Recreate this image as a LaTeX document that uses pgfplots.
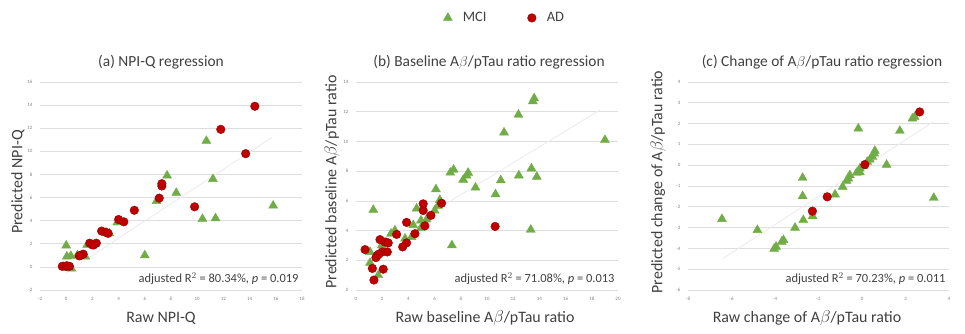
\documentclass[border=0pt]{standalone}
\usepackage{fontspec}
\setmainfont{Carlito}
\usepackage{pgfplots}
\pgfplotsset{compat=1.18}
\definecolor{mci}{RGB}{112,173,71}
\definecolor{ad}{RGB}{192,0,0}
\definecolor{txt}{RGB}{64,64,64}
\definecolor{gridc}{RGB}{222,222,222}
\definecolor{trendc}{RGB}{236,236,236}
\pgfplotsset{
 panel/.style={
  scale only axis, width=262bp, height=208bp, anchor=south west,
  axis line style={draw=none},
  ymajorgrids, grid style={gridc, line width=0.6bp},
  tick style={draw=none},
  tick label style={font=\fontsize{5}{6}\selectfont, text=gray},
  /pgf/number format/assume math mode=true,
  xticklabel style={yshift=-4bp},
  yticklabel style={xshift=-4bp},
  clip=false,
 },
 mcis/.style={only marks, mark=triangle*, mark size=5.2bp, mark options={fill=mci, draw=mci}},
 ads/.style={only marks, mark=*, mark size=4.3bp, mark options={fill=ad, draw=ad!75!black, line width=0.4bp}},
 trend/.style={trendc, line width=0.9bp, no marks},
}
\newcommand{\ttl}{\fontsize{15.5}{18}\selectfont\color{txt}}
\newcommand{\lbl}{\fontsize{16}{19}\selectfont\color{txt}}
\newcommand{\ann}{\fontsize{12.5}{15}\selectfont\color{txt}}
\begin{document}
\begin{tikzpicture}[x=1bp,y=1bp]
\path[use as bounding box] (0,0) rectangle (965,333);
% ---------- panel (a)
\begin{axis}[panel, at={(40bp,43bp)}, xmin=-2, xmax=18, ymin=-2, ymax=16,
  xtick={-2,0,...,18}, ytick={-2,0,...,16},
  legend columns=2,
  legend style={at={(axis description cs:1.53,1.308)}, anchor=west, draw=none, fill=none,
    inner sep=0pt, outer sep=0pt,
    font=\fontsize{14.5}{17}\selectfont\color{txt}},
  legend image code/.code={\draw[#1] plot coordinates {(0bp,0bp)};\path[draw=none,fill=none] (-7bp,-3bp) rectangle (13bp,3bp);},
]
\addplot[trend, forget plot] coordinates {(0,-0.5) (15.7,11.2)};
\addplot[mcis] coordinates {
(10.7,10.9) (11.2,7.6) (7.7,7.9) (8.4,6.4) (6.9,5.7) (10.4,4.15) (11.4,4.2)
(15.8,5.3) (6.0,1.0) (3.9,3.85) (3.3,2.9) (3.1,2.95) (1.6,1.9) (0.85,1.0)
(1.45,0.9) (0.0,1.85) (0.05,0.9) (0.35,0.95) (0.4,-0.15) (0.15,-0.1) (-0.2,0.0)
};
\addlegendentry{\makebox[60bp][l]{MCI}}
\addplot[ads] coordinates {
(14.4,13.9) (11.8,11.9) (13.7,9.8) (9.8,5.2) (7.3,7.0) (7.3,7.2) (7.1,5.95)
(5.2,4.9) (4.0,4.1) (4.4,3.9) (2.7,3.1) (3.0,3.0) (3.2,2.9) (1.8,2.05)
(2.1,1.9) (2.3,2.05) (2.0,1.9) (1.1,1.0) (1.3,1.1) (1.0,0.95) (-0.3,0.05)
(0.0,0.05) (0.25,0.05) (0.05,0.1)
};
\addlegendentry{AD}
\end{axis}
% ---------- panel (b)
\begin{axis}[panel, at={(356bp,43bp)}, xmin=0, xmax=20, ymin=0, ymax=14,
  xtick={0,2,...,20}, ytick={0,2,...,14}]
\addplot[trend] coordinates {(0.7,2.5) (18.6,12.1)};
\addplot[mcis] coordinates {
(13.6,12.9) (13.5,12.7) (12.4,11.8) (11.3,10.6) (19.0,10.1) (7.45,8.1) (7.2,7.9)
(8.56,7.89) (8.44,7.7) (8.18,7.42) (9.12,6.89) (11.05,7.38) (12.43,7.71)
(13.39,8.18) (13.8,7.62) (10.65,6.44) (13.34,4.06) (7.32,3.01) (6.1,6.78)
(6.4,6.06) (6.25,5.66) (6.0,5.35) (4.63,5.48) (1.32,5.39) (4.37,4.37)
(4.96,4.68) (5.39,4.75) (4.96,4.19) (4.24,3.57) (3.74,3.46) (2.67,3.79)
(2.97,4.01) (2.34,3.17) (1.07,2.56) (1.07,1.83) (1.7,1.0) (1.96,3.0)
};
\addplot[ads] coordinates {
(10.62,4.28) (6.53,5.84) (5.13,5.8) (5.13,5.35) (5.72,5.02) (5.26,4.32)
(3.86,4.55) (4.5,3.79) (3.1,3.74) (3.86,3.17) (3.56,2.9) (1.83,3.39)
(2.21,3.23) (2.46,3.17) (2.0,2.56) (2.39,2.56) (1.63,2.34) (1.52,2.18)
(1.73,2.41) (0.69,2.72) (1.25,1.45) (2.08,1.4) (1.37,0.67)
};
\end{axis}
% ---------- panel (c)
\begin{axis}[panel, at={(688bp,43bp)}, width=261bp, xmin=-8, xmax=4, ymin=-6, ymax=4,
  xtick={-8,-6,...,4}, ytick={-6,-5,...,4}]
\addplot[trend] coordinates {(-6.39,-4.48) (3.27,2.08)};
\addplot[mcis] coordinates {
(2.42,2.32) (2.32,2.24) (1.74,1.65) (-0.17,1.76) (0.59,0.69) (0.56,0.56)
(0.48,0.4) (0.36,0.27) (0.24,0.16) (0.06,-0.05) (-0.1,-0.16) (-0.1,-0.34)
(-0.25,-0.37) (1.13,0.02) (3.3,-1.57) (-0.56,-0.48) (-0.63,-0.64)
(-0.71,-0.75) (-0.89,-1.04) (-1.24,-1.41) (-2.73,-0.61) (-2.73,-1.49)
(-2.27,-2.45) (-2.7,-2.64) (-3.08,-3.01) (-3.61,-3.6) (-3.69,-3.68)
(-3.95,-3.92) (-4.04,-4.02) (-4.81,-3.12) (-6.44,-2.59)
};
\addplot[ads] coordinates {
(2.65,2.56) (0.13,0.03) (-1.6,-1.52) (-2.28,-2.21)
};
\end{axis}
% ---------- texts
\node[anchor=base] at (161,267) {\ttl (a) NPI-Q regression};
\node[anchor=base] at (489,267) {\ttl (b) Baseline A$\beta$/pTau ratio regression};
\node[anchor=base] at (822,267) {\ttl (c) Change of A$\beta$/pTau ratio regression};
\node at (161,15) {\lbl Raw NPI-Q};
\node at (485,15) {\lbl Raw baseline A$\beta$/pTau ratio};
\node at (807,15) {\lbl Raw change of A$\beta$/pTau ratio};
\node[rotate=90] at (18,151) {\lbl Predicted NPI-Q};
\node[rotate=90] at (332,151) {\lbl Predicted baseline A$\beta$/pTau ratio};
\node[rotate=90] at (658,151) {\lbl Predicted change of A$\beta$/pTau ratio};
\node[anchor=east] at (302,54) {\ann adjusted R$^{2}$ = 80.34\%, \textit{p} = 0.019};
\node[anchor=east] at (618,54) {\ann adjusted R$^{2}$ = 71.08\%, \textit{p} = 0.013};
\node[anchor=east] at (949,54) {\ann adjusted R$^{2}$ = 70.23\%, \textit{p} = 0.011};
\end{tikzpicture}
\end{document}
